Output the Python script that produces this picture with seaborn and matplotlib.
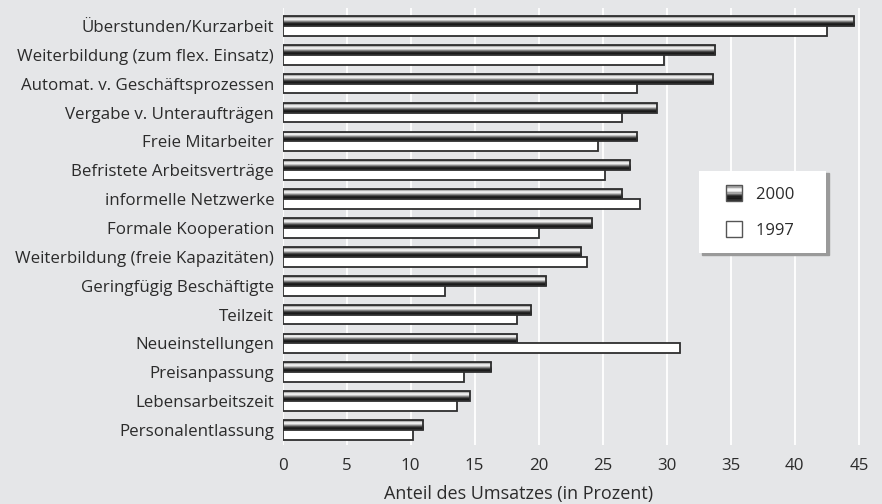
"""Flexibilisierungsinstrumente 2000 vs. 1997 as horizontal grouped bars."""

import matplotlib

matplotlib.use("Agg")

import matplotlib.pyplot as plt
import numpy as np
import pandas as pd
import seaborn as sns
from matplotlib.legend_handler import HandlerBase
from matplotlib.patches import Patch, Rectangle

categories = [
    "Überstunden/Kurzarbeit",
    "Weiterbildung (zum flex. Einsatz)",
    "Automat. v. Geschäftsprozessen",
    "Vergabe v. Unteraufträgen",
    "Freie Mitarbeiter",
    "Befristete Arbeitsverträge",
    "informelle Netzwerke",
    "Formale Kooperation",
    "Weiterbildung (freie Kapazitäten)",
    "Geringfügig Beschäftigte",
    "Teilzeit",
    "Neueinstellungen",
    "Preisanpassung",
    "Lebensarbeitszeit",
    "Personalentlassung",
]
values_2000 = [44.6, 33.8, 33.6, 29.2, 27.7, 27.1, 26.5, 24.2, 23.3, 20.6, 19.4, 18.3, 16.3, 14.6, 11.0]
values_1997 = [42.5, 29.8, 27.7, 26.5, 24.6, 25.2, 27.9, 20.0, 23.8, 12.7, 18.3, 31.0, 14.2, 13.6, 10.2]
years = ["2000", "1997"]
x_ticks = [0, 5, 10, 15, 20, 25, 30, 35, 40, 45]

BG = "#e5e6e8"
EDGE = "#2e2e2e"
TEXT = "#2b2b2b"
# cylinder-like shading of the 2000 bars, top to bottom
SHADE = [0.42, 0.66, 0.88, 0.97, 0.86, 0.64, 0.42, 0.22, 0.12, 0.10, 0.18]


class SquareHandler(HandlerBase):
    """Square swatch pushed to the right end of the handle box (wider left padding)."""

    def __init__(self, gradient=False):
        super().__init__()
        self.gradient = gradient

    def create_artists(self, legend, orig_handle, xdescent, ydescent, width, height, fontsize, trans):
        x0 = -xdescent + width - height
        y0 = -ydescent
        artists = []
        if self.gradient:
            n = len(SHADE)
            for i, v in enumerate(SHADE):
                yy = y0 + height * (1 - (i + 1) / n)
                artists.append(Rectangle((x0, yy), height, height / n, facecolor=str(v),
                                         edgecolor="none", transform=trans))
            artists.append(Rectangle((x0, y0), height, height, fill=False,
                                     edgecolor="#555555", linewidth=1.0, transform=trans))
        else:
            artists.append(Rectangle((x0, y0), height, height, facecolor="white",
                                     edgecolor="#555555", linewidth=1.0, transform=trans))
        return artists


def main() -> None:
    sns.set_style("white")
    plt.rcParams["font.family"] = ["Open Sans", "DejaVu Sans"]

    df = pd.DataFrame({
        "Kategorie": categories * 2,
        "Jahr": [years[0]] * len(categories) + [years[1]] * len(categories),
        "Wert": values_2000 + values_1997,
    })

    fig = plt.figure(figsize=(8.82, 5.04), dpi=100, facecolor=BG)
    ax = fig.add_axes([0.3203, 0.117, 0.668, 0.867])
    ax.set_facecolor(BG)

    sns.barplot(data=df, y="Kategorie", x="Wert", hue="Jahr", order=categories,
                hue_order=years, orient="h", width=0.68, dodge=True,
                palette={"2000": "#888888", "1997": "white"},
                edgecolor=EDGE, linewidth=1.3, legend=False, ax=ax, zorder=3)

    grad = np.array(SHADE).reshape(-1, 1)
    for bar in ax.containers[0]:
        x, y = bar.get_x(), bar.get_y()
        w, h = bar.get_width(), bar.get_height()
        bar.set_facecolor("none")
        img = ax.imshow(grad, extent=(x, x + w, y + h, y), origin="upper", aspect="auto",
                        cmap="gray", vmin=0, vmax=1, interpolation="bilinear", zorder=2.9)
        img.set_clip_path(bar)

    ax.set_xlim(0, 46)
    ax.set_ylim(len(categories) - 0.48, -0.62)
    ax.set_xticks(x_ticks)
    ax.xaxis.grid(True, color="white", linewidth=1.3)
    ax.yaxis.grid(False)
    ax.set_axisbelow(True)
    for spine in ax.spines.values():
        spine.set_visible(False)
    ax.tick_params(axis="both", length=0, labelsize=12.2, colors=TEXT)
    ax.tick_params(axis="y", pad=6)
    ax.tick_params(axis="x", pad=9)
    ax.set_ylabel("")
    ax.set_xlabel("Anteil des Umsatzes (in Prozent)", fontsize=13, color=TEXT, labelpad=8)
    ax.xaxis.label.set_x(0.40)

    h2000 = Patch(label="2000    ")
    h1997 = Patch(label="1997    ")
    leg = ax.legend(handles=[h2000, h1997],
                    handler_map={h2000: SquareHandler(gradient=True), h1997: SquareHandler()},
                    loc="center", bbox_to_anchor=(0.815, 0.534), fontsize=12,
                    frameon=True, fancybox=False, shadow={"color": "#9a9a9a", "alpha": 1},
                    handlelength=1.75, handleheight=1.1, handletextpad=0.85,
                    labelspacing=1.1, borderpad=0.85, labelcolor=TEXT)
    leg.get_frame().set_facecolor("white")
    leg.get_frame().set_edgecolor("none")
    leg.get_frame().set_alpha(1)
    leg.set_zorder(5)

    fig.savefig("out.png", dpi=100, facecolor=BG)
    plt.close(fig)


if __name__ == "__main__":
    main()
